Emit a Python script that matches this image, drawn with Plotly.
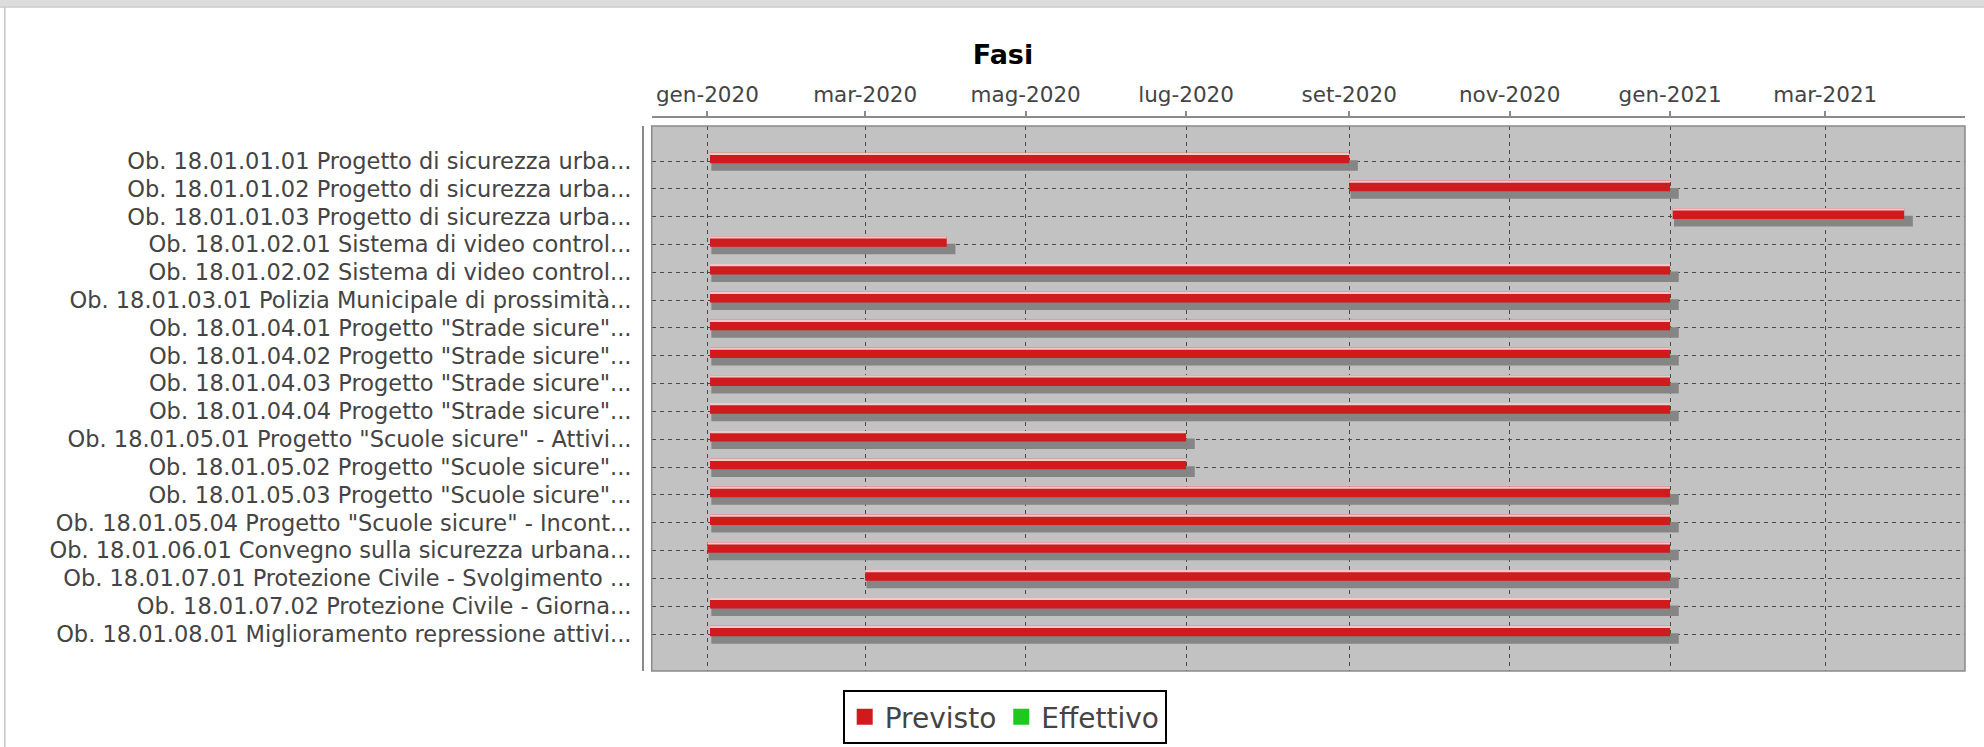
import plotly.graph_objects as go
import pandas as pd

# ---------------- data ----------------
categories = [
    "Ob. 18.01.01.01 Progetto di sicurezza urba...",
    "Ob. 18.01.01.02 Progetto di sicurezza urba...",
    "Ob. 18.01.01.03 Progetto di sicurezza urba...",
    "Ob. 18.01.02.01 Sistema di video control...",
    "Ob. 18.01.02.02 Sistema di video control...",
    "Ob. 18.01.03.01 Polizia Municipale di prossimità...",
    "Ob. 18.01.04.01 Progetto \"Strade sicure\"...",
    "Ob. 18.01.04.02 Progetto \"Strade sicure\"...",
    "Ob. 18.01.04.03 Progetto \"Strade sicure\"...",
    "Ob. 18.01.04.04 Progetto \"Strade sicure\"...",
    "Ob. 18.01.05.01 Progetto \"Scuole sicure\" - Attivi...",
    "Ob. 18.01.05.02 Progetto \"Scuole sicure\"...",
    "Ob. 18.01.05.03 Progetto \"Scuole sicure\"...",
    "Ob. 18.01.05.04 Progetto \"Scuole sicure\" - Incont...",
    "Ob. 18.01.06.01 Convegno sulla sicurezza urbana...",
    "Ob. 18.01.07.01 Protezione Civile - Svolgimento ...",
    "Ob. 18.01.07.02 Protezione Civile - Giorna...",
    "Ob. 18.01.08.01 Miglioramento repressione attivi...",
]
previsto_start = [
    "2020-01-02", "2020-09-01", "2021-01-02", "2020-01-02", "2020-01-02",
    "2020-01-02", "2020-01-02", "2020-01-02", "2020-01-02", "2020-01-02",
    "2020-01-02", "2020-01-02", "2020-01-02", "2020-01-02", "2020-01-01",
    "2020-03-01", "2020-01-02", "2020-01-02",
]
previsto_end = [
    "2020-09-01", "2021-01-01", "2021-03-31", "2020-04-01", "2021-01-01",
    "2021-01-01", "2021-01-01", "2021-01-01", "2021-01-01", "2021-01-01",
    "2020-07-01", "2020-07-01", "2021-01-01", "2021-01-01", "2021-01-01",
    "2021-01-01", "2021-01-01", "2021-01-01",
]
# "Effettivo" series has no values in the chart
effettivo_start = [None] * len(categories)
effettivo_end = [None] * len(categories)

tick_dates = ["2020-01-01", "2020-03-01", "2020-05-01", "2020-07-01",
              "2020-09-01", "2020-11-01", "2021-01-01", "2021-03-01"]
tick_labels = ["gen-2020", "mar-2020", "mag-2020", "lug-2020",
               "set-2020", "nov-2020", "gen-2021", "mar-2021"]
series_names = ["Previsto", "Effettivo"]
x_range = ["2019-12-10 20:00", "2021-04-23 03:00"]

# ---------------- styles ----------------
RED = "#cf1a1e"
RED_HI = "#f2c9c9"
GREEN = "#1ec81e"
SHADOW = "#858585"
PLOT_BG = "#c2c2c2"
GRID = "#4a4a4a"
AXIS = "#8a8a8a"
TEXT = "#444444"
FONT = "DejaVu Sans"
DAY_MS = 86400000.0

starts = pd.to_datetime(previsto_start)
ends = pd.to_datetime(previsto_end)
dur_ms = ((ends - starts).total_seconds() * 1000).tolist()

sh_start_shift = 0.5   # days
sh_end_shift = 3.3     # days
sh_base = (starts + pd.Timedelta(days=sh_start_shift)).strftime("%Y-%m-%d %H:%M:%S").tolist()
sh_dur = [d + (sh_end_shift - sh_start_shift) * DAY_MS for d in dur_ms]
base_str = starts.strftime("%Y-%m-%d %H:%M:%S").tolist()

BAR_OFF = -0.298
BAR_W = 0.381

fig = go.Figure()
# shadow
fig.add_trace(go.Bar(
    y=categories, x=sh_dur, base=sh_base, orientation="h",
    offset=BAR_OFF + 0.27, width=BAR_W,
    marker=dict(color=SHADOW, line=dict(width=0)),
    showlegend=False, hoverinfo="skip",
))
# main red bar
fig.add_trace(go.Bar(
    y=categories, x=dur_ms, base=base_str, orientation="h",
    offset=BAR_OFF, width=BAR_W, name=series_names[0],
    marker=dict(color=RED, line=dict(width=0)),
    showlegend=False,
))
# highlight at top of bar
fig.add_trace(go.Bar(
    y=categories, x=dur_ms, base=base_str, orientation="h",
    offset=BAR_OFF, width=0.08,
    marker=dict(color=RED_HI, line=dict(width=0)),
    showlegend=False, hoverinfo="skip",
))
# legend entries
fig.add_trace(go.Scatter(
    x=[None], y=[None], mode="markers", name=series_names[0],
    marker=dict(symbol="square", size=19, color=RED),
))
fig.add_trace(go.Scatter(
    x=effettivo_start, y=categories, mode="markers", name=series_names[1],
    marker=dict(symbol="square", size=19, color=GREEN),
))

# page decoration shapes (paper coords)
L, R, T, B = 643, 19, 117, 76
W, H = 1984, 747
pw = W - L - R
ph = H - T - B
def px_x(p):
    return (p - L) / pw
def px_y(p):
    return (H - B - p) / ph

shapes = [
    dict(type="rect", xref="paper", yref="paper",
         x0=px_x(0), x1=px_x(W), y0=px_y(0), y1=px_y(6.5),
         fillcolor="#dcdcdc", line=dict(width=0), layer="below"),
    dict(type="line", xref="paper", yref="paper",
         x0=px_x(0), x1=px_x(W), y0=px_y(7), y1=px_y(7),
         line=dict(color="#c8c8c8", width=1.5)),
    dict(type="line", xref="paper", yref="paper",
         x0=px_x(4.8), x1=px_x(4.8), y0=px_y(7), y1=px_y(H),
         line=dict(color="#c8c8c8", width=1.6)),
    dict(type="rect", xref="x domain", yref="y domain",
         x0=0, x1=1, y0=0, y1=1,
         line=dict(color=AXIS, width=1.5), layer="above"),
]

fig.update_layout(
    width=W, height=H,
    margin=dict(l=L, r=R, t=T, b=B, pad=0, autoexpand=False),
    paper_bgcolor="white", plot_bgcolor=PLOT_BG,
    barmode="overlay",
    font=dict(family=FONT, color=TEXT, size=21),
    title=dict(text="<b>Fasi</b>", font=dict(family=FONT, size=27, color="#000000"),
               x=1003 / W, xref="container", xanchor="center",
               y=1 - 55 / H, yref="container", yanchor="middle"),
    xaxis=dict(
        type="date", side="top", anchor="free", position=1,
        domain=[(651.7 - L) / pw, 1], range=x_range,
        tickvals=tick_dates, ticktext=tick_labels,
        ticks="outside", ticklen=5, tickwidth=1.5, tickcolor=AXIS,
        showline=True, linecolor=AXIS, linewidth=2,
        showgrid=True, gridcolor=GRID, gridwidth=1, griddash="4px,4px",
        zeroline=False, tickfont=dict(size=21.5, color=TEXT, family=FONT),
        automargin=False,
    ),
    yaxis=dict(
        type="category", categoryorder="array", categoryarray=categories,
        anchor="free", position=0,
        domain=[0, (H - B - 126) / ph], range=[18.33, -1.258],
        ticks="", showline=True, linecolor=AXIS, linewidth=2,
        showgrid=True, gridcolor=GRID, gridwidth=1, griddash="4px,4px",
        zeroline=False, ticklabelstandoff=6,
        tickfont=dict(size=22.5, color=TEXT, family=FONT),
        automargin=False,
    ),
    legend=dict(
        orientation="h", x=(842.7 - L) / pw, y=px_y(717),
        xanchor="left", yanchor="middle",
        bordercolor="#000000", borderwidth=2, bgcolor="white",
        font=dict(size=28, color=TEXT, family=FONT),
        itemsizing="trace",
    ),
    shapes=shapes,
)

fig.write_html("out.html", config={"displayModeBar": False},
               post_script="document.body.style.margin='0';document.body.style.overflow='hidden';")
